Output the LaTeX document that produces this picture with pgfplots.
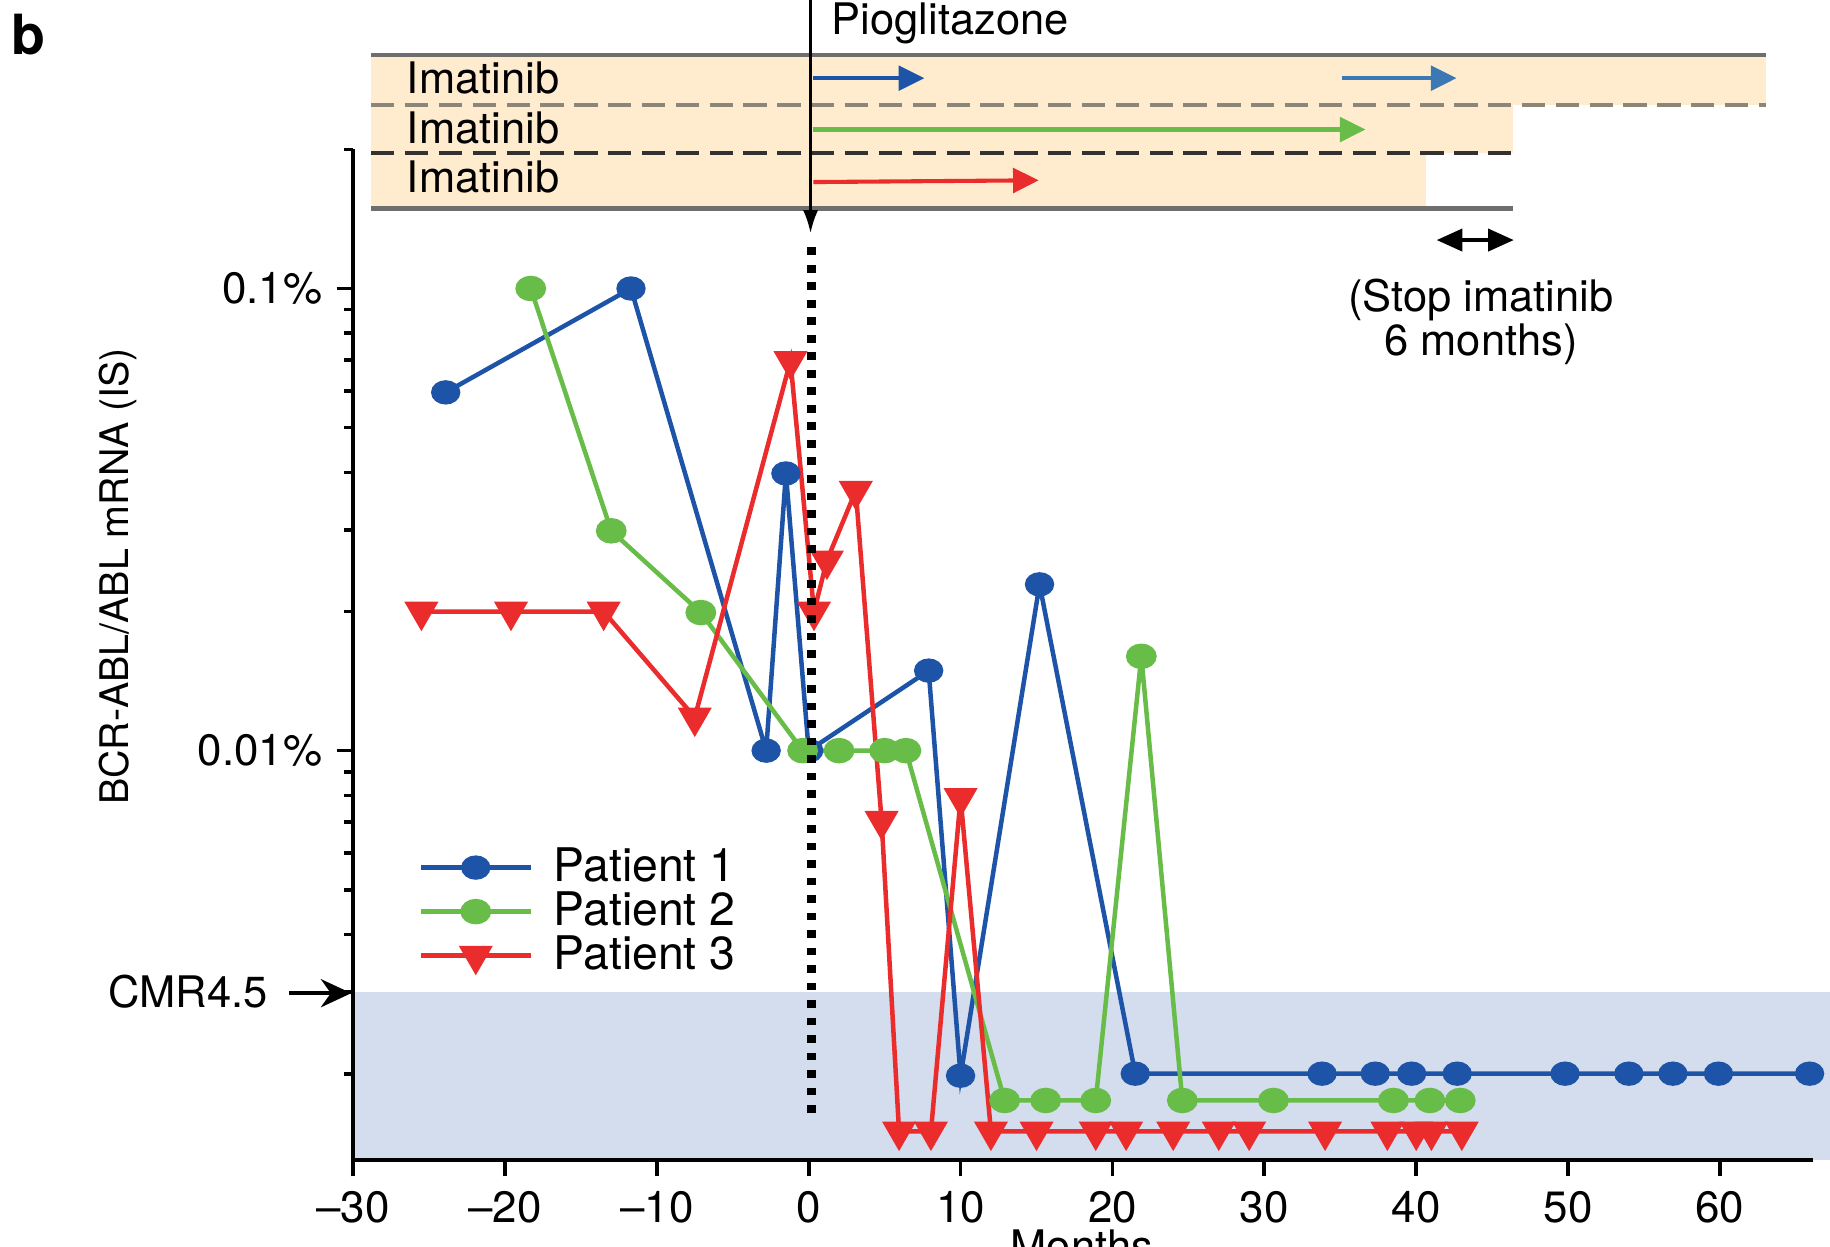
\documentclass[border=0pt]{standalone}
\usepackage{fontspec}
\setmainfont{TeX Gyre Heros}
\usepackage{pgfplots}
\pgfplotsset{compat=1.18}
\usetikzlibrary{arrows.meta}

\definecolor{pblue}{RGB}{30,84,168}
\definecolor{pblueb}{RGB}{60,120,180}
\definecolor{pgreen}{RGB}{104,188,72}
\definecolor{pred}{RGB}{234,44,44}
\definecolor{shadecol}{RGB}{212,221,237}
\definecolor{orangefill}{RGB}{255,236,206}
\definecolor{boxgray}{RGB}{110,110,110}
\definecolor{dashgray}{RGB}{140,134,122}
\definecolor{dashdark}{RGB}{50,50,50}

\pgfplotstableread{
x y
-23.9 0.0596
-11.7 0.1
-2.8 0.01
-1.5 0.0398
0.0 0.01
7.9 0.0149
10.0 0.00198
15.2 0.0229
21.5 0.002
33.8 0.002
37.3 0.002
39.7 0.002
42.7 0.002
49.8 0.002
54.0 0.002
56.9 0.002
59.9 0.002
65.9 0.002
}\patientone

\pgfplotstableread{
x y
-18.3 0.1
-13.0 0.0299
-7.1 0.0199
-0.4 0.01
2.0 0.01
5.0 0.01
6.4 0.01
12.9 0.00175
15.6 0.00175
18.9 0.00175
21.9 0.016
24.6 0.00175
30.6 0.00175
38.5 0.00175
40.9 0.00175
42.9 0.00175
}\patienttwo

\pgfplotstableread{
x y
-25.5 0.02
-19.6 0.02
-13.5 0.02
-7.5 0.0118
-1.2 0.0697
0.35 0.02
1.2 0.0258
3.1 0.0365
4.8 0.00705
5.95 0.0015
8.05 0.0015
10.0 0.0079
12.0 0.0015
15.0 0.0015
18.9 0.0015
20.9 0.0015
24.0 0.0015
27.0 0.0015
29.0 0.0015
34.0 0.0015
38.1 0.0015
40.0 0.0015
41.0 0.0015
43.0 0.0015
}\patientthree

\begin{document}
\begin{tikzpicture}[font=\fontsize{10.6}{12.7}\selectfont]
\begin{axis}[
  at={(30.25mm,7.4mm)}, anchor=south west,
  scale only axis, width=125.06mm, height=86.6mm,
  xmin=-30, xmax=66.1,
  ymode=log, ymin=0.0013, ymax=0.2,
  axis x line*=bottom, axis y line*=left,
  axis line style={line width=0.9pt,-},
  axis on top,
  clip=false,
  xtick={-30,-20,-10,0,10,20,30,40,50,60},
  xticklabels={\textendash30,\textendash20,\textendash10,0,10,20,30,40,50,60},
  ytick={0.01,0.1},
  yticklabels={0.01\%,0.1\%},
  minor ytick={0.002,0.003,0.004,0.005,0.006,0.007,0.008,0.009,0.02,0.03,0.04,0.05,0.06,0.07,0.08,0.09,0.2},
  tick align=outside,
  major tick length=1.4mm, minor tick length=0.75mm,
  tick style={black, line width=0.9pt},
  tick label style={font=\fontsize{10.7}{12.8}\selectfont, black},
  legend style={at={(0.0444,0.31)}, anchor=north west, draw=none, fill=none,
    inner sep=0pt, row sep=0.35mm, column sep=1.8mm,
    font=\fontsize{11.3}{13.5}\selectfont, nodes={inner sep=0pt}},
  legend cell align=left,
  legend image code/.code={\draw[mark repeat=2,mark phase=2] plot coordinates {(0mm,0mm) (4.7mm,0mm) (9.4mm,0mm)};},
]
\fill[shadecol] (axis cs:-30,0.0013) rectangle (axis cs:70,0.003);
\addplot[pblue, line width=1.1pt, mark=*, mark size=0.85mm, mark options={xscale=1.25}] table[x=x,y=y] {\patientone};
\addlegendentry{Patient 1}
\addplot[pgreen, line width=1.1pt, mark=*, mark size=0.9mm, mark options={xscale=1.25}] table[x=x,y=y] {\patienttwo};
\addlegendentry{Patient 2}
\addplot[pred, line width=1.1pt, mark=triangle*, mark size=1.3mm, mark options={rotate=180}] table[x=x,y=y] {\patientthree};
\addlegendentry{Patient 3}
\end{axis}

% treatment boxes
\fill[orangefill] (31.8mm,97.8mm) rectangle (151.3mm,102.1mm);
\fill[orangefill] (31.8mm,93.7mm) rectangle (129.6mm,97.8mm);
\fill[orangefill] (31.8mm,88.94mm) rectangle (122.2mm,93.7mm);
\draw[boxgray, line width=0.4mm] (31.8mm,102.1mm) -- (151.3mm,102.1mm);
\draw[dashgray, line width=0.3mm, dash pattern=on 2mm off 0.9mm] (31.8mm,97.8mm) -- (151.3mm,97.8mm);
\draw[dashdark, line width=0.3mm, dash pattern=on 2mm off 0.9mm] (31.8mm,93.7mm) -- (129.6mm,93.7mm);
\draw[boxgray, line width=0.4mm] (31.8mm,88.94mm) -- (129.6mm,88.94mm);

\node[anchor=west, inner sep=0pt] at (34.8mm,100.1mm) {Imatinib};
\node[anchor=west, inner sep=0pt] at (34.8mm,95.8mm) {Imatinib};
\node[anchor=west, inner sep=0pt] at (34.8mm,91.65mm) {Imatinib};

\draw[pblue, line width=0.35mm, -{Triangle[length=2.2mm,width=2.1mm]}] (69.7mm,100.1mm) -- (79.2mm,100.1mm);
\draw[pblueb, line width=0.35mm, -{Triangle[length=2.2mm,width=2.1mm]}] (115.0mm,100.1mm) -- (124.8mm,100.1mm);
\draw[pgreen, line width=0.35mm, -{Triangle[length=2.2mm,width=2.1mm]}] (69.7mm,95.7mm) -- (117.0mm,95.7mm);
\draw[pred, line width=0.35mm, -{Triangle[length=2.2mm,width=2.1mm]}] (69.7mm,91.2mm) -- (89.0mm,91.35mm);

% pioglitazone
\draw[black, line width=0.25mm, -{Latex[length=2mm,width=1.3mm]}] (69.45mm,106.8mm) -- (69.45mm,86.8mm);
\node[anchor=west, inner sep=0pt] at (71.2mm,104.8mm) {Pioglitazone};
\draw[black, line width=0.75mm, dash pattern=on 0.65mm off 0.85mm] (69.5mm,85.6mm) -- (69.5mm,11.4mm);

% stop imatinib
\draw[black, line width=0.3mm, {Triangle[length=2.2mm,width=1.9mm]}-{Triangle[length=2.2mm,width=1.9mm]}] (123.1mm,86.23mm) -- (129.7mm,86.23mm);
\node[anchor=base, inner sep=0pt] at (126.9mm,80.1mm) {(Stop imatinib};
\node[anchor=base, inner sep=0pt] at (126.9mm,76.3mm) {6 months)};

% CMR4.5
\node[anchor=east, inner sep=0pt] at (23.0mm,21.8mm) {CMR4.5};
\draw[black, line width=0.35mm, -{Stealth[length=2.6mm,width=2.4mm]}] (24.8mm,21.7mm) -- (30.1mm,21.7mm);

% labels
\node[anchor=base west, inner sep=0pt, font=\fontsize{13.5}{15}\selectfont\bfseries] at (0.9mm,102.1mm) {b};
\node[rotate=90, inner sep=0pt, font=\fontsize{9.6}{11}\selectfont] at (10.1mm,57.4mm) {BCR-ABL/ABL mRNA (IS)};
\node[anchor=north, inner sep=0pt] at (92.7mm,1.5mm) {Months};

\pgfresetboundingbox
\useasboundingbox (0mm,0mm) rectangle (156.8mm,106.8mm);
\end{tikzpicture}
\end{document}
